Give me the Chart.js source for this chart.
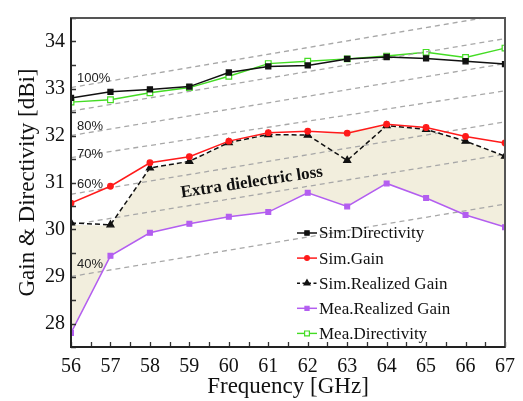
<!DOCTYPE html>
<html><head><meta charset="utf-8">
<script src="https://cdn.jsdelivr.net/npm/chart.js@4/dist/chart.umd.min.js"></script>
<style>html,body{margin:0;padding:0;background:#fff}#wrap{width:523px;height:401px}</style>
</head><body><div id="wrap"><canvas id="c" width="523" height="401"></canvas></div>
<script>
// ---- data ----
const freq = [56,57,58,59,60,61,62,63,64,65,66,67];
const simDirectivity = [32.80,32.93,32.98,33.04,33.34,33.47,33.49,33.63,33.67,33.64,33.58,33.52];
const simGain        = [30.56,30.92,31.42,31.55,31.88,32.06,32.09,32.05,32.24,32.17,31.98,31.84];
const simRealized    = [30.14,30.10,31.31,31.45,31.85,32.02,32.01,31.47,32.21,32.13,31.88,31.56];
const meaRealized    = [27.80,29.44,29.93,30.12,30.27,30.37,30.78,30.49,30.98,30.67,30.31,30.05];
const meaDirectivity = [32.71,32.76,32.91,33.02,33.26,33.53,33.58,33.63,33.69,33.77,33.66,33.86];
// upper edge of the shaded "extra dielectric loss" band
const lossBandTop    = [30.10,30.08,31.31,31.45,31.85,32.02,32.01,32.10,32.21,32.13,31.88,31.56];
// efficiency reference lines (value at 56 GHz and at 67 GHz)
const effNames = ['100%','90%','80%','70%','60%','50%','40%'];
const effShown = [true,false,true,true,true,false,true];
const effAt56  = [33.02,32.52,32.00,31.53,30.75,30.10,29.00];
const effAt67  = [34.58,34.06,33.53,32.95,32.29,31.60,30.54];
const xTicks = [56,57,58,59,60,61,62,63,64,65,66,67];
const yTicks = [28,29,30,31,32,33,34];
const seriesNames = ['Sim.Directivity','Sim.Gain','Sim.Realized Gain','Mea.Realized Gain','Mea.Directivity'];
const bandText = 'Extra dielectric loss';
const axisTitleX = 'Frequency [GHz]';
const axisTitleY = 'Gain & Directivity [dBi]';

// ---- styling ----
const SERIF = "'Liberation Serif','Times New Roman',serif";
const SANS = "'Liberation Sans',Arial,sans-serif";
const pts = arr => arr.map((v,i)=>({x:freq[i], y:v}));
const effLabelDy = [-5,0,-5,0,-6,0,-8];

const datasets = [];
effNames.forEach((n,i)=>{
  datasets.push({label:'eff'+n, data:[{x:freq[0],y:effAt56[i]},{x:freq[freq.length-1],y:effAt67[i]}],
    borderColor:'#a8a8a8', borderWidth:1.3, borderDash:[5,4], pointRadius:0, fill:false, order:5});
});
const bandIndex = datasets.length;
datasets.push({label:'band', data:pts(lossBandTop), borderWidth:0, borderColor:'rgba(0,0,0,0)',
  pointRadius:0, backgroundColor:'#f2eedd', fill:bandIndex+4, order:10});
const seriesStyles = [
  {color:'#111111', dash:[], point:'rect', r:3.6, fill:'#111111', bw:1.5},
  {color:'#ff1a1a', dash:[], point:'circle', r:2.8, fill:'#ff1a1a', bw:1.5},
  {color:'#111111', dash:[5,3], point:'triangle', r:4, fill:'#111111', bw:1.5},
  {color:'#b35ef0', dash:[], point:'rect', r:3.4, fill:'#b35ef0', bw:1.5},
  {color:'#44dc24', dash:[], point:'rect', r:4, fill:'#ffffff', bw:1.4}
];
const seriesData = [simDirectivity, simGain, simRealized, meaRealized, meaDirectivity];
seriesData.forEach((arr,i)=>{
  const s = seriesStyles[i];
  datasets.push({label:seriesNames[i], data:pts(arr), borderColor:s.color, borderWidth:s.bw,
    borderDash:s.dash, pointStyle:s.point, pointRadius:s.r, pointBackgroundColor:s.fill,
    pointBorderColor:s.color, pointBorderWidth:1.2, fill:false, order:i===0?0:(i+1)});
});

function drawMarker(ctx, style, x, y, r, fill, stroke){
  ctx.save();
  ctx.fillStyle = fill; ctx.strokeStyle = stroke; ctx.lineWidth = 1.2; ctx.setLineDash([]);
  ctx.beginPath();
  if(style==='rect'){ const s=Math.SQRT1_2*r; ctx.rect(x-s,y-s,2*s,2*s); }
  else if(style==='circle'){ ctx.arc(x,y,r,0,Math.PI*2); }
  else if(style==='triangle'){
    ctx.moveTo(x, y-r); ctx.lineTo(x+r*0.866, y+r*0.5); ctx.lineTo(x-r*0.866, y+r*0.5); ctx.closePath();
  }
  ctx.fill(); ctx.stroke(); ctx.restore();
}

const decor = {
  id:'decor',
  afterDatasetsDraw(chart){
    const {ctx, chartArea:a, scales:{x,y}} = chart;
    ctx.save();
    // efficiency labels
    ctx.font = '13px '+SANS; ctx.fillStyle = '#222'; ctx.textAlign='left'; ctx.textBaseline='middle';
    effNames.forEach((n,i)=>{
      if(!effShown[i]) return;
      const px = a.left + 6;
      const fx = x.getValueForPixel(px + 16);
      const v = effAt56[i] + (effAt67[i]-effAt56[i])*(fx-freq[0])/(freq[freq.length-1]-freq[0]);
      ctx.fillText(n, px, y.getPixelForValue(v) + effLabelDy[i]);
    });
    // band label
    ctx.translate(x.getPixelForValue(60.58), y.getPixelForValue(31.0));
    ctx.rotate(-8.5*Math.PI/180);
    ctx.font = 'bold 17px '+SERIF; ctx.fillStyle='#111'; ctx.textAlign='center';
    ctx.fillText(bandText, 0, 0);
    ctx.restore();
  },
  afterDraw(chart){
    const {ctx, chartArea:a, scales:{x,y}} = chart;
    ctx.save();
    // inward ticks
    ctx.strokeStyle='#333'; ctx.lineWidth=1.3; ctx.setLineDash([]);
    ctx.beginPath();
    for(let v=freq[0]; v<=freq[freq.length-1]+1e-9; v+=0.5){
      const px = Math.round(x.getPixelForValue(v))+0.5;
      ctx.moveTo(px, a.bottom); ctx.lineTo(px, a.bottom-5);
    }
    for(let v=y.min; v<=y.max+1e-9; v+=0.5){
      const py = Math.round(y.getPixelForValue(v))+0.5;
      ctx.moveTo(a.left, py); ctx.lineTo(a.left+5, py);
    }
    ctx.stroke();
    // frame
    ctx.strokeStyle='#555'; ctx.lineWidth=2;
    ctx.strokeRect(a.left, a.top, a.right-a.left, a.bottom-a.top);
    ctx.strokeStyle='#222';
    ctx.beginPath(); ctx.moveTo(a.left, a.top); ctx.lineTo(a.left, a.bottom); ctx.lineTo(a.right, a.bottom); ctx.stroke();
    // legend
    const lx = a.left + 226, ly = a.top + 215, step = 25.1;
    ctx.font = '17px '+SERIF; ctx.textAlign='left'; ctx.textBaseline='middle'; ctx.fillStyle='#111';
    seriesNames.forEach((n,i)=>{
      const s = seriesStyles[i]; const yy = ly + i*step;
      ctx.strokeStyle = s.color; ctx.lineWidth = s.bw; ctx.setLineDash(s.dash.length?[3,2.5]:[]);
      ctx.beginPath(); ctx.moveTo(lx, yy); ctx.lineTo(lx+20, yy); ctx.stroke();
      drawMarker(ctx, s.point, lx+10, yy, s.r*0.85, s.fill, s.color);
      ctx.fillStyle='#111';
      ctx.fillText(n, lx+22, yy+1);
    });
    ctx.restore();
  }
};

new Chart(document.getElementById('c'), {
  type:'line',
  data:{datasets},
  options:{
    responsive:false, animation:false, devicePixelRatio:1,
    layout:{padding:{left:0, top:9, right:17, bottom:0}},
    plugins:{legend:{display:false}, tooltip:{enabled:false}, filler:{propagate:false}},
    elements:{line:{tension:0}},
    scales:{
      x:{type:'linear', min:56, max:67,
        afterBuildTicks:s=>{ s.ticks = xTicks.map(v=>({value:v})); },
        afterFit:s=>{ s.height = 54; },
        grid:{display:false, drawTicks:false}, border:{display:false},
        ticks:{font:{family:SERIF, size:20}, color:'#111', padding:8, maxRotation:0, autoSkip:false},
        title:{display:true, text:axisTitleX, font:{family:SERIF, size:23}, color:'#111', padding:{top:0,bottom:0}}
      },
      y:{type:'linear', min:27.5, max:34.5,
        afterBuildTicks:s=>{ s.ticks = yTicks.map(v=>({value:v})); },
        afterFit:s=>{ s.width = 71; },
        grid:{display:false, drawTicks:false}, border:{display:false},
        ticks:{font:{family:SERIF, size:20}, color:'#111', padding:6, autoSkip:false},
        title:{display:true, text:axisTitleY, font:{family:SERIF, size:23}, color:'#111', padding:{top:14,bottom:0}}
      }
    }
  },
  plugins:[decor]
});
</script></body></html>
